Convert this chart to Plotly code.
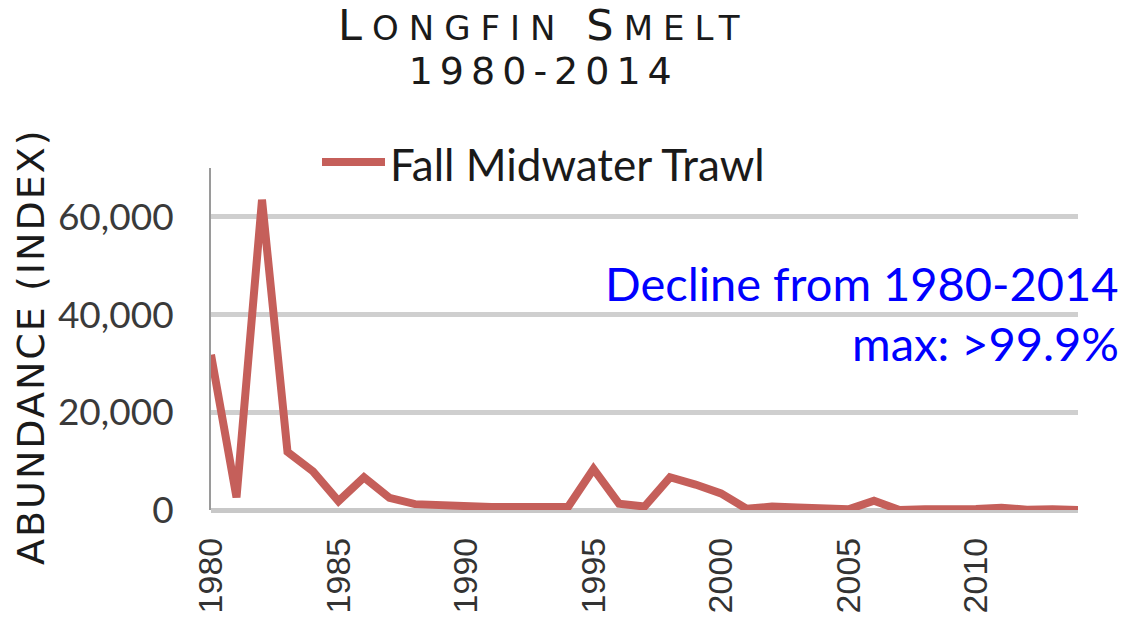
import plotly.graph_objects as go

years = list(range(1980, 2015))
abundance = [31800, 2600, 63500, 11900, 7900, 1800, 6700, 2500, 1200, 1000,
             500, 600, 600, 800, 600, 8400, 1300, 700, 6700, 5200,
             3400, 250, 700, 500, 200, 130, 1900, 15, 140, 65,
             190, 480, 60, 160, 20]
series_name = "Fall Midwater Trawl"
y_ticks = [0, 20000, 40000, 60000]
y_tick_text = ["0", "20,000", "40,000", "60,000"]
x_ticks = [1980, 1985, 1990, 1995, 2000, 2005, 2010]

LINE_COLOR = "#C55F5A"
GRID = "#CFCFCF"

fig = go.Figure()
fig.add_trace(go.Scatter(x=years, y=abundance, mode="lines", name=series_name,
                         line=dict(color=LINE_COLOR, width=8), showlegend=False,
                         hoverinfo="skip"))

W, H = 1126, 624
L, R, T, B = 211, 48, 168, 114
pw, ph = W - L - R, H - T - B

def px(xp):
    return (xp - L) / pw

def py(yp):
    return (H - B - yp) / ph

fig.update_layout(
    width=W, height=H,
    margin=dict(l=L, r=R, t=T, b=B, pad=0),
    paper_bgcolor="white", plot_bgcolor="white",
    showlegend=False,
    xaxis=dict(range=[1980, 2014], tickvals=x_ticks, tickangle=-90,
               showgrid=False, zeroline=False, showline=False, automargin=False,
               ticks="", ticklabelstandoff=20,
               tickfont=dict(family="Liberation Sans", size=34, color="#333333")),
    yaxis=dict(range=[0, 70000], tickvals=y_ticks, ticktext=y_tick_text,
               showgrid=True, gridcolor=GRID, gridwidth=4.5, automargin=False,
               zeroline=True, zerolinecolor="#C8C8C8", zerolinewidth=4.5,
               showline=True, linecolor="#9A9A9A", linewidth=2,
               ticks="", ticklabelstandoff=28,
               tickfont=dict(family="Lato", size=37, color="#3A3A3A")),
)

# Title (two lines in one text block)
title = ('<span style="letter-spacing:10px">'
         '<span style="font-size:43px">L</span>ONGFIN '
         '<span style="font-size:43px">S</span>MELT</span><br>'
         '<span style="letter-spacing:7px;font-size:38px">1980-2014</span>')
fig.add_annotation(text=title, xref="paper", yref="paper", x=px(544), y=py(47),
                   xanchor="center", yanchor="middle", showarrow=False,
                   font=dict(family="DejaVu Sans", size=34, color="#1A1A1A"))

# Y axis title
fig.add_annotation(text='<span style="letter-spacing:2px">ABUNDANCE (INDEX)</span>',
                   xref="paper", yref="paper", x=px(31), y=py(347),
                   xanchor="center", yanchor="middle", textangle=-90, showarrow=False,
                   font=dict(family="DejaVu Sans", size=38, color="#1A1A1A"))

# Legend
fig.add_shape(type="line", xref="paper", yref="paper", x0=px(322), x1=px(385),
              y0=py(162), y1=py(162), line=dict(color=LINE_COLOR, width=8))
fig.add_annotation(text=series_name, xref="paper", yref="paper", x=px(388), y=py(164),
                   xanchor="left", yanchor="middle", showarrow=False,
                   font=dict(family="Lato", size=44, color="#1A1A1A"))

# Blue note
fig.add_annotation(text="Decline from 1980-2014", xref="paper", yref="paper",
                   x=px(1121), y=py(283), xanchor="right", yanchor="middle",
                   showarrow=False, font=dict(family="Lato", size=47, color="#0000FF"))
fig.add_annotation(text="max: >99.9%", xref="paper", yref="paper",
                   x=px(1121), y=py(343), xanchor="right", yanchor="middle",
                   showarrow=False, font=dict(family="Lato", size=47, color="#0000FF"))

fig.write_html("out.html", config={"displayModeBar": False},
               post_script="document.body.style.margin='0px';")
